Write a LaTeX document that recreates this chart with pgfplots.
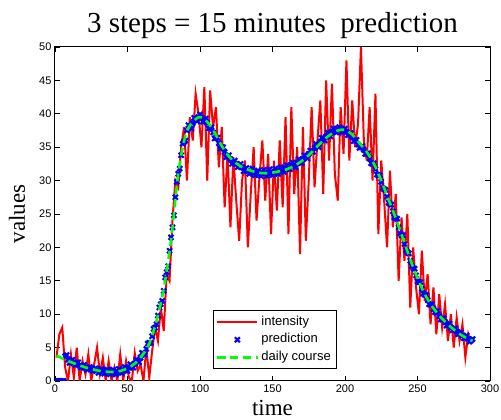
\documentclass[border=0pt]{standalone}
\usepackage{pgfplots}
\pgfplotsset{compat=1.18}
\usepackage{fontspec}
\setmainfont{Liberation Serif}
\newfontfamily\arial{Liberation Sans}
\begin{document}
\begin{tikzpicture}
\path[use as bounding box] (-55pt,-39pt) rectangle (446pt,381pt);
\begin{axis}[
  scale only axis, width=435pt, height=334pt,
  at={(0,0)}, anchor=south west,
  clip marker paths=true,
  xmin=0, xmax=300, ymin=0, ymax=50,
  xtick={0,50,...,300}, ytick={0,5,...,50},
  tick align=inside, major tick length=5pt,
  axis line style={line width=1pt},
  every tick/.style={black, line width=0.8pt},
  /pgf/number format/assume math mode=true,
  ticklabel style={font=\arial\fontsize{11}{13}\selectfont},
  title={3 steps = 15 minutes\ \ prediction},
  title style={font=\fontsize{29}{31}\selectfont, at={(axis description cs:0.5,1)}, anchor=base, yshift=8pt},
  xlabel={time},
  xlabel style={font=\fontsize{23}{25}\selectfont, at={(axis description cs:0.5,0)}, anchor=base, yshift=-35pt},
  ylabel={values},
  ylabel style={font=\fontsize{23}{25}\selectfont, at={(axis description cs:-0.069,0.5)}, anchor=base},
  legend cell align=left,
  legend image code/.code={\draw[mark repeat=2,mark phase=2,#1] plot coordinates {(0pt,0pt) (20pt,0pt) (40pt,0pt)};},
  legend style={at={(rel axis cs:0.648,0.036)}, anchor=south east, draw=black, line width=0.8pt,
    font=\arial\fontsize{13}{15}\selectfont, row sep=0pt,
    nodes={inner sep=2.7pt, text height=9.5pt, text depth=3pt}},
]
\addplot[red, line width=2pt] coordinates {
(1,3.5)(3,7.0)(5,8.0)(7,2.0)(9,0)(11,4.0)(13,0.5)(15,5.0)(17,0)(19,3.0)
(21,1.0)(23,4.0)(25,0)(27,2.5)(29,5.0)(31,1.0)(33,3.5)(35,0)(37,3.0)(39,0)
(41,2.0)(43,0)(45,4.0)(47,0)(49,3.0)(51,0.5)(53,0)(55,4.2)(57,1.5)(59,2.5)
(61,0)(63,5.0)(65,0.5)(67,4.5)(69,8.0)(71,6.0)(73,11.0)(75,7.5)(77,16.0)(79,15.0)
(81,24.0)(83,30.0)(85,29.0)(87,35.0)(89,38.0)(91,30.0)(93,39.5)(95,36.0)(97,43.0)(99,40.0)
(101,35.0)(103,44.0)(105,30.0)(107,43.5)(109,38.0)(111,41.0)(113,32.0)(115,38.0)(117,26.0)(119,34.0)
(121,23.0)(123,33.5)(125,27.0)(127,21.0)(129,30.0)(131,33.0)(133,20.0)(135,28.0)(137,35.0)(139,24.0)
(141,30.5)(143,36.0)(145,27.0)(147,34.0)(149,22.0)(151,33.0)(153,25.5)(155,36.0)(157,26.0)(159,39.5)
(161,22.0)(163,41.0)(165,28.0)(167,35.0)(169,19.0)(171,38.0)(173,21.0)(175,30.0)(177,41.0)(179,29.0)
(181,36.0)(183,42.0)(185,28.0)(187,45.0)(189,33.0)(191,44.5)(193,31.0)(195,27.0)(197,41.0)(199,34.0)
(201,48.0)(203,33.0)(205,42.0)(207,35.0)(209,38.5)(211,50.0)(213,36.0)(215,33.0)(217,41.0)(219,30.0)
(221,43.0)(223,22.0)(225,33.0)(227,27.0)(229,20.0)(231,31.5)(233,23.0)(235,28.0)(237,15.0)(239,24.5)
(241,18.0)(243,25.0)(245,11.0)(247,20.0)(249,14.0)(251,10.0)(253,19.5)(255,12.0)(257,16.0)(259,8.5)
(261,14.0)(263,7.0)(265,13.0)(267,8.0)(269,11.5)(271,6.0)(273,10.0)(275,5.0)(277,9.5)(279,6.0)
(281,8.5)(283,3.5)(285,7.0)(287,5.5)
};
\addlegendentry{intensity}
\addplot[blue, only marks, mark=x, mark size=3.5pt, mark options={line width=2.1pt}] coordinates {
(1,0)(3,0)(5,0)(7,3.7)(9,3.2)(11,2.9)(13,2.8)(15,2.6)(17,2.3)(19,2.2)
(21,2.0)(23,1.9)(25,1.8)(27,1.7)(29,1.6)(31,1.5)(33,1.5)(35,1.4)(37,1.4)(39,1.35)
(41,1.35)(43,1.4)(45,1.5)(47,1.6)(49,1.8)(51,2.0)(53,2.2)(55,2.6)(57,3.0)(59,3.5)
(61,4.1)(63,4.8)(65,5.7)(67,6.7)(69,8.0)(71,9.8)(73,11.5)(75,13.5)(77,16.3)(79,19.5)
(81,23.0)(83,27.5)(85,31.0)(87,33.8)(89,35.8)(91,37.5)(93,38.2)(95,38.6)(97,39.2)(99,39.5)
(101,39.4)(103,39.0)(105,38.6)(107,37.9)(109,37.2)(111,36.4)(113,35.6)(115,35.0)(117,34.3)(119,33.6)
(121,33.2)(123,32.8)(125,32.5)(127,32.3)(129,32.0)(131,31.7)(133,31.4)(135,31.4)(137,31.2)(139,31.1)
(141,31.0)(143,31.2)(145,31.1)(147,31.1)(149,31.3)(151,31.2)(153,31.5)(155,31.4)(157,31.6)(159,31.8)
(161,32.0)(163,32.3)(165,32.4)(167,32.7)(169,33.0)(171,33.2)(173,33.6)(175,34.0)(177,34.4)(179,34.9)
(181,35.3)(183,35.8)(185,36.3)(187,36.6)(189,37.0)(191,37.3)(193,37.5)(195,37.7)(197,37.6)(199,37.5)
(201,37.3)(203,36.9)(205,36.5)(207,36.0)(209,35.4)(211,35.0)(213,34.6)(215,34.0)(217,33.3)(219,32.5)
(221,31.7)(223,30.8)(225,29.8)(227,28.7)(229,27.6)(231,26.5)(233,25.4)(235,24.3)(237,23.0)(239,21.8)
(241,20.5)(243,19.3)(245,18.0)(247,16.9)(249,15.8)(251,14.8)(253,13.8)(255,12.9)(257,12.1)(259,11.4)
(261,10.8)(263,10.2)(265,9.7)(267,9.2)(269,8.8)(271,8.4)(273,8.0)(275,7.7)(277,7.4)(279,7.1)
(281,6.8)(283,6.5)(285,6.3)(287,6.1)
(2,0)(4,0)(6,0)(8,3.9)(10,2.7)(12,3.2)(14,2.4)(16,2.8)(18,2.0)(20,2.4)
(22,1.7)(24,2.1)(26,1.5)(28,1.9)(30,1.2)(32,1.8)(34,1.1)(36,1.7)(38,1.0)(40,1.7)
(42,1.0)(44,1.8)(46,1.2)(48,2.1)(50,1.5)(52,2.5)(54,2.0)(56,3.2)(58,2.8)(60,4.2)
(62,3.9)(64,5.6)(66,5.7)(68,7.8)(70,8.5)(72,11.0)(74,12.0)(76,15.5)(78,17.2)(80,21.5)
(82,24.8)(84,29.8)(86,31.8)(88,35.5)(90,36.0)(92,38.3)(94,37.8)(96,39.4)(98,38.9)(100,39.9)
(102,38.8)(104,39.3)(106,37.8)(108,38.0)(110,36.3)(112,36.4)(114,34.8)(116,35.0)(118,33.5)(120,33.8)
(122,32.5)(124,33.0)(126,32.0)(128,32.5)(130,31.4)(132,31.9)(134,31.0)(136,31.8)(138,30.8)(140,31.5)
(142,30.7)(144,31.6)(146,30.7)(148,31.7)(150,30.8)(152,31.8)(154,31.0)(156,32.0)(158,31.3)(160,32.3)
(162,31.7)(164,32.7)(166,32.0)(168,33.2)(170,32.6)(172,33.8)(174,33.3)(176,34.5)(178,34.3)(180,35.5)
(182,35.0)(184,36.4)(186,36.0)(188,37.2)(190,36.6)(192,37.8)(194,37.2)(196,38.0)(198,37.2)(200,37.8)
(202,36.8)(204,37.1)(206,35.9)(208,36.1)(210,34.9)(212,35.2)(214,34.0)(216,34.1)(218,32.6)(220,32.6)
(222,30.9)(224,30.8)(226,28.9)(228,28.6)(230,26.7)(232,26.4)(234,24.5)(236,24.3)(238,22.1)(240,21.8)
(242,19.6)(244,19.1)(246,17.2)(248,16.8)(250,14.9)(252,14.8)(254,13.1)(256,12.9)(258,11.5)(260,11.5)
(262,10.3)(264,10.5)(266,9.2)(268,9.4)(270,8.3)(272,8.6)(274,7.6)(276,7.9)(278,7.0)(280,7.3)
(282,6.4)(284,6.8)(286,5.9)(288,6.3)
};
\addlegendentry{prediction}
\addplot[color={rgb,1:red,0;green,1;blue,0}, line width=2.6pt, dash pattern=on 8pt off 5pt, smooth] coordinates {
(1,3.8)(5,3.4)(10,2.9)(15,2.5)(20,2.1)(25,1.8)(30,1.55)(35,1.4)(40,1.35)(45,1.5)
(50,1.9)(55,2.6)(60,3.8)(65,5.6)(70,9.0)(75,13.8)(80,21.0)(85,31.0)(90,36.8)(95,38.8)
(100,39.5)(105,38.8)(110,37.2)(115,35.2)(120,33.6)(125,32.6)(130,31.9)(135,31.5)(140,31.2)(145,31.1)
(150,31.2)(155,31.4)(160,31.7)(165,32.2)(170,32.9)(175,33.8)(180,34.9)(185,36.0)(190,36.9)(195,37.5)
(200,37.6)(205,36.9)(210,35.6)(215,34.3)(220,32.5)(225,30.0)(230,27.2)(235,24.4)(240,21.3)(245,18.2)
(250,15.4)(255,13.0)(260,11.2)(265,9.8)(270,8.7)(275,7.7)(280,6.9)(285,6.3)(288,6.0)
};
\addlegendentry{daily course}
\end{axis}
\end{tikzpicture}
\end{document}
